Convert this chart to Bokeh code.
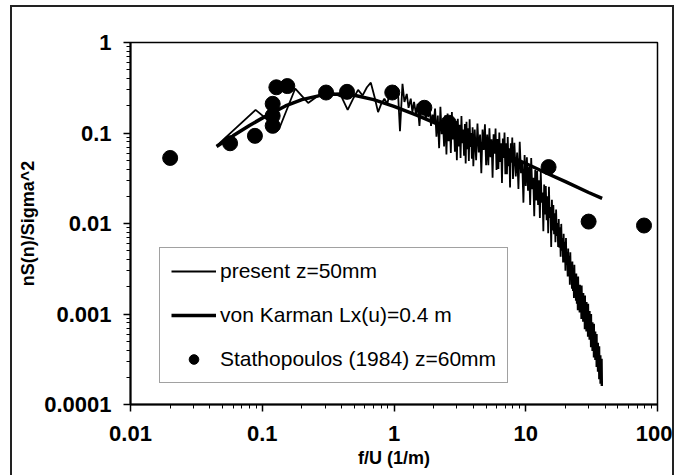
from bokeh.plotting import figure
from bokeh.models import FixedTicker, CustomJSTickFormatter, Legend, LegendItem, Range1d
from bokeh.embed import file_html
from bokeh.resources import INLINE

# ---- data ----
x_ticks = [0.01, 0.1, 1, 10, 100]
y_ticks = [0.0001, 0.001, 0.01, 0.1, 1]

stath_x = [0.02, 0.057, 0.088, 0.12, 0.12, 0.12, 0.128, 0.155, 0.305, 0.44, 0.97, 1.7, 2.6, 14.9, 30, 79]
stath_y = [0.053, 0.077, 0.093, 0.12, 0.155, 0.21, 0.32, 0.33, 0.28, 0.285, 0.28, 0.19, 0.13, 0.042, 0.0105, 0.0095]

karman_x = [0.045, 0.06, 0.08, 0.1, 0.15, 0.2, 0.3, 0.4, 0.5, 0.7, 1.0, 1.5, 2, 3, 5, 7, 10, 15, 20, 30, 38]
karman_y = [0.071, 0.093, 0.121, 0.146, 0.199, 0.234, 0.267, 0.270, 0.261, 0.234, 0.197, 0.157, 0.131, 0.101,
            0.072, 0.058, 0.046, 0.035, 0.029, 0.022, 0.019]

present_x = [
    0.045, 0.089, 0.134, 0.178, 0.223, 0.267, 0.312, 0.356, 0.40, 0.445, 0.49, 0.534, 0.578, 0.623, 0.667,
    0.712, 0.757, 0.80, 0.845, 0.89, 0.935, 0.979, 1.02, 1.07, 1.11, 1.16, 1.20, 1.25, 1.29, 1.34, 1.38,
    1.42, 1.47, 1.51, 1.56, 1.60, 1.65, 1.69, 1.74, 1.78, 1.82, 1.87, 1.91, 1.96, 2.0,
    2.05, 2.1, 2.15, 2.2, 2.25, 2.3, 2.35, 2.4, 2.45, 2.5, 2.55, 2.6, 2.65, 2.7, 2.75, 2.8, 2.85, 2.9, 2.95, 3.0,
    3.05, 3.1, 3.15, 3.2, 3.25, 3.3, 3.35, 3.4, 3.45, 3.5, 3.55, 3.6, 3.65, 3.7, 3.75, 3.8, 3.85, 3.9, 3.95, 4.0,
    4.1, 4.2, 4.3, 4.4, 4.5, 4.6, 4.7, 4.8, 4.9, 5.0, 5.1, 5.2, 5.3, 5.4, 5.5, 5.6, 5.7, 5.8, 5.9, 6.0,
    6.1, 6.2, 6.3, 6.4, 6.5, 6.6, 6.7, 6.8, 6.9, 7.0, 7.1, 7.2, 7.3, 7.4, 7.5, 7.6, 7.7, 7.8, 7.9, 8.0,
    8.2, 8.4, 8.6, 8.8, 9.0, 9.2, 9.4, 9.6, 9.8, 10.0, 10.2, 10.4, 10.6, 10.8, 11.0, 11.2, 11.4, 11.6, 11.8, 12.0,
    12.2, 12.4, 12.6, 12.8, 13.0, 13.2, 13.4, 13.6, 13.8, 14.0, 14.2, 14.4, 14.6, 14.8, 15.0, 15.2, 15.4, 15.6, 15.8, 16.0,
    16.2, 16.4, 16.6, 16.8, 17.0, 17.2, 17.4, 17.6, 17.8, 18.0, 18.2, 18.4, 18.6, 18.8, 19.0, 19.2, 19.4, 19.6, 19.8, 20.0,
    20.2, 20.4, 20.6, 20.8, 21.0, 21.2, 21.4, 21.6, 21.8, 22.0, 22.2, 22.4, 22.6, 22.8, 23.0, 23.2, 23.4, 23.6, 23.8, 24.0,
    24.2, 24.4, 24.6, 24.8, 25.0, 25.2, 25.4, 25.6, 25.8, 26.0, 26.2, 26.4, 26.6, 26.8, 27.0, 27.2, 27.4, 27.6, 27.8, 28.0,
    28.2, 28.4, 28.6, 28.8, 29.0, 29.2, 29.4, 29.6, 29.8, 30.0, 30.2, 30.4, 30.6, 30.8, 31.0, 31.2, 31.4, 31.6, 31.8, 32.0,
    32.2, 32.4, 32.6, 32.8, 33.0, 33.2, 33.4, 33.6, 33.8, 34.0, 34.2, 34.4, 34.6, 34.8, 35.0, 35.2, 35.4, 35.6, 35.8, 36.0,
    36.2, 36.4, 36.6, 36.8, 37.0, 37.2, 37.4, 37.6, 37.8, 38.0,
]
present_y = [
    0.072, 0.18, 0.11, 0.31, 0.215, 0.26, 0.29, 0.27, 0.25, 0.18, 0.24, 0.30, 0.26, 0.32, 0.36, 0.25, 0.17, 0.21,
    0.24, 0.21, 0.30, 0.26, 0.33, 0.30, 0.105, 0.35, 0.22, 0.27, 0.19, 0.24, 0.17, 0.22, 0.16, 0.21, 0.12, 0.20,
    0.17, 0.21, 0.14, 0.18, 0.15, 0.19, 0.12, 0.16, 0.13,
    0.186, 0.091, 0.156, 0.068, 0.195, 0.097, 0.137, 0.071, 0.157, 0.058, 0.164, 0.081, 0.138, 0.060, 0.171,
    0.085, 0.120, 0.062, 0.136, 0.050,
    0.144, 0.071, 0.123, 0.053, 0.154, 0.077, 0.109, 0.056, 0.126, 0.046, 0.133, 0.066, 0.113, 0.049, 0.142,
    0.070, 0.100, 0.052, 0.116, 0.043,
    0.109, 0.050, 0.127, 0.061, 0.096, 0.036, 0.109, 0.065, 0.125, 0.044, 0.096, 0.044, 0.113, 0.054, 0.085,
    0.032, 0.097, 0.059, 0.112, 0.039,
    0.086, 0.040, 0.101, 0.048, 0.077, 0.028, 0.087, 0.053, 0.101, 0.035, 0.077, 0.035, 0.090, 0.043, 0.068,
    0.025, 0.077, 0.047, 0.089, 0.031,
    0.078, 0.033, 0.061, 0.024, 0.080, 0.036, 0.047, 0.017, 0.057, 0.026, 0.054, 0.023, 0.042, 0.016, 0.053,
    0.024, 0.032, 0.012, 0.039, 0.018,
    0.038, 0.016, 0.030, 0.0115, 0.037, 0.017, 0.022, 0.0082, 0.027, 0.0126, 0.026, 0.0109, 0.020, 0.0078,
    0.0255, 0.0115, 0.0152, 0.0055, 0.0183, 0.0084,
    0.016, 0.0076, 0.013, 0.0062, 0.0143, 0.0073, 0.0101, 0.0055, 0.0112, 0.0054,
    0.0091, 0.0043, 0.0099, 0.0050, 0.0069, 0.0037, 0.0077, 0.0037, 0.0063, 0.0030,
    0.0069, 0.0035, 0.0048, 0.0026, 0.0053, 0.0026, 0.0044, 0.0021, 0.0048, 0.0025,
    0.0035, 0.0019, 0.0038, 0.0018, 0.0031, 0.0015, 0.0035, 0.0018, 0.0025, 0.0014,
    0.0028, 0.0013, 0.0024, 0.0011, 0.0026, 0.00136, 0.00184, 0.00104, 0.0021, 0.00105,
    0.00183, 0.00088, 0.00207, 0.00107, 0.0015, 0.00082, 0.00171, 0.00083, 0.00143, 0.00068,
    0.0016, 0.00084, 0.00117, 0.00064, 0.00136, 0.00066, 0.00115, 0.00056, 0.0013, 0.00068,
    0.00094, 0.00052, 0.00108, 0.00053, 0.0009, 0.00043, 0.001, 0.00052, 0.00071, 0.00039,
    0.00081, 0.0004, 0.00069, 0.00033, 0.00078, 0.00041, 0.00056, 0.00031, 0.00064, 0.00031,
    0.00054, 0.00026, 0.0006, 0.00031, 0.00043, 0.00023, 0.00048, 0.00023, 0.00039, 0.00019,
    0.00044, 0.00022, 0.00031, 0.00017, 0.00035, 0.00017, 0.00029, 0.00016, 0.00032, 0.00016,
]

labels = ["present z=50mm", "von Karman Lx(u)=0.4 m", "Stathopoulos (1984) z=60mm"]
x_label = "f/U (1/m)"
y_label = "nS(n)/Sigma^2"

FONT = "Liberation Sans"

p = figure(width=664, height=470, x_axis_type="log", y_axis_type="log",
           x_range=Range1d(0.01, 100), y_range=Range1d(0.0001, 1),
           output_backend="svg", toolbar_location=None,
           min_border_left=118, min_border_right=19, min_border_top=35, min_border_bottom=73,
           x_axis_label=x_label, y_axis_label=y_label)
p.styles = {"border-top": "2px solid #222", "border-left": "2px solid #222",
            "border-right": "2px solid #222", "margin-left": "10px", "margin-top": "5px"}
p.grid.visible = False
p.outline_line_color = "black"
p.outline_line_width = 1.5
p.background_fill_color = "white"
p.border_fill_color = "white"

x_minor = [m * t for t in x_ticks[:-1] for m in range(2, 10)]
y_minor = [m * t for t in y_ticks[:-1] for m in range(2, 10)]
p.xaxis.ticker = FixedTicker(ticks=x_ticks, minor_ticks=x_minor)
p.yaxis.ticker = FixedTicker(ticks=y_ticks, minor_ticks=y_minor)
p.xaxis.formatter = CustomJSTickFormatter(code="return tick.toString();")
p.yaxis.formatter = CustomJSTickFormatter(code="return tick.toString();")

for ax in p.axis:
    ax.major_label_text_font = FONT
    ax.major_label_text_font_size = "22px"
    ax.major_label_text_font_style = "bold"
    ax.major_label_text_color = "black"
    ax.axis_label_text_font = FONT
    ax.axis_label_text_font_size = "18px"
    ax.axis_label_text_font_style = "bold"
    ax.axis_label_text_color = "black"
    ax.axis_line_width = 2
    ax.axis_line_color = "black"
    ax.major_tick_out = 7
    ax.major_tick_in = 0
    ax.minor_tick_out = 4
    ax.minor_tick_in = 0
    ax.major_tick_line_width = 1.5
    ax.minor_tick_line_width = 1
p.yaxis.major_label_standoff = 12
p.xaxis.major_label_standoff = 14
p.yaxis.axis_label_standoff = 3
p.xaxis.axis_label_standoff = 4

r_present = p.line(present_x, present_y, line_color="black", line_width=1.8)
r_karman = p.line(karman_x, karman_y, line_color="black", line_width=3.5)
r_stath = p.scatter(stath_x, stath_y, size=15, marker="circle", fill_color="black", line_color="black")

legend = Legend(items=[LegendItem(label=labels[0], renderers=[r_present]),
                       LegendItem(label=labels[1], renderers=[r_karman]),
                       LegendItem(label=labels[2], renderers=[r_stath])],
                location=(29, 21))
legend.label_text_font = FONT
legend.label_text_font_size = "21px"
legend.label_text_color = "black"
legend.glyph_width = 45
legend.glyph_height = 24
legend.label_height = 24
legend.spacing = 20
legend.padding = 11
legend.label_standoff = 4
legend.border_line_color = "#444"
legend.border_line_width = 1.2
legend.background_fill_alpha = 1.0
p.add_layout(legend)

open("out.html", "w").write(file_html(p, INLINE))
